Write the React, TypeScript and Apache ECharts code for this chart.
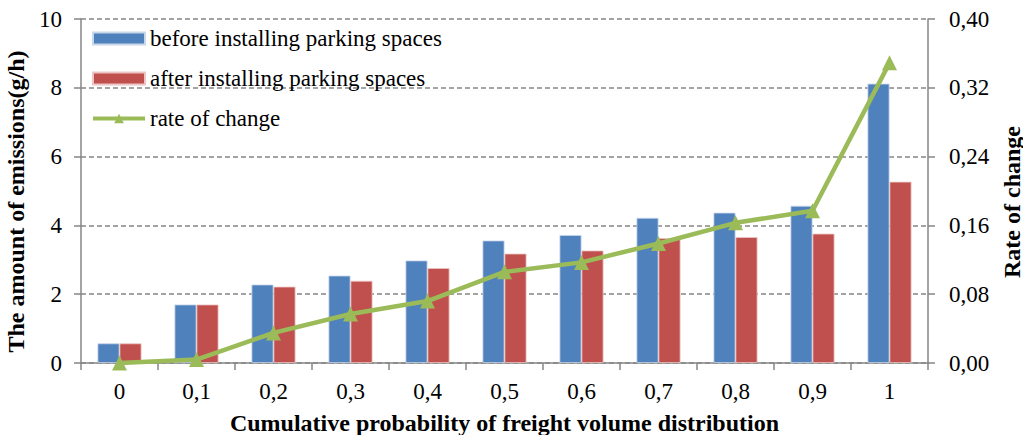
import React, { useEffect, useRef } from "react";
import * as echarts from "echarts";

const categories = ["0", "0,1", "0,2", "0,3", "0,4", "0,5", "0,6", "0,7", "0,8", "0,9", "1"];
const beforeValues = [0.57, 1.70, 2.28, 2.54, 2.98, 3.56, 3.72, 4.22, 4.37, 4.57, 8.12];
const afterValues = [0.57, 1.70, 2.22, 2.39, 2.76, 3.18, 3.27, 3.63, 3.66, 3.76, 5.27];
const rateValues = [0.0, 0.004, 0.035, 0.057, 0.072, 0.106, 0.117, 0.139, 0.163, 0.177, 0.349];

const FONT = "Liberation Serif";
const AXIS_GRAY = "#868686";
const W = 1023;
const H = 435;

export default function App() {
  const ref = useRef<HTMLDivElement>(null);

  useEffect(() => {
    if (!ref.current) return;
    document.body.style.margin = "0";
    const chart = echarts.init(ref.current, undefined, { renderer: "svg", width: W, height: H });
    chart.setOption({
      animation: false,
      backgroundColor: "#ffffff",
      textStyle: { fontFamily: FONT },
      grid: {
        left: 81,
        right: 95,
        top: 19,
        bottom: 72,
        containLabel: false,
        outerBoundsMode: "none",
      },
      legend: {
        orient: "vertical",
        left: 91,
        top: 27,
        padding: 0,
        itemWidth: 52,
        itemHeight: 12,
        itemGap: 17,
        textStyle: { fontFamily: FONT, fontSize: 23, color: "#000" },
        data: [
          { name: "before installing parking spaces", icon: "rect" },
          { name: "after installing parking spaces", icon: "rect" },
          { name: "rate of change", lineStyle: { width: 4 } },
        ],
      },
      xAxis: {
        type: "category",
        data: categories,
        name: "Cumulative probability of freight volume distribution",
        nameLocation: "middle",
        nameGap: 48,
        nameTextStyle: { fontFamily: FONT, fontSize: 24, fontWeight: "bold", color: "#000" },
        axisLine: { lineStyle: { color: AXIS_GRAY, width: 1.5 } },
        axisTick: { show: true, length: 7, lineStyle: { color: AXIS_GRAY, width: 1.5 } },
        axisLabel: { fontFamily: FONT, fontSize: 23, color: "#000", margin: 17 },
      },
      yAxis: [
        {
          type: "value",
          min: 0,
          max: 10,
          interval: 2,
          name: "The amount of emissions(g/h)",
          nameLocation: "middle",
          nameRotate: 90,
          nameGap: 48,
          nameTextStyle: {
            fontFamily: FONT,
            fontSize: 24,
            fontWeight: "bold",
            color: "#000",
            padding: [0, 21, 0, 0],
          },
          axisLine: { show: true, lineStyle: { color: AXIS_GRAY, width: 1.5 } },
          axisTick: { show: true, length: 7, lineStyle: { color: AXIS_GRAY, width: 1.5 } },
          axisLabel: { fontFamily: FONT, fontSize: 23, color: "#000", margin: 19 },
          splitLine: { show: true, lineStyle: { color: AXIS_GRAY, type: [5, 3], width: 1.5 } },
        },
        {
          type: "value",
          min: 0,
          max: 0.4,
          interval: 0.08,
          name: "Rate of change",
          nameLocation: "middle",
          nameRotate: 90,
          nameGap: 58,
          nameTextStyle: {
            fontFamily: FONT,
            fontSize: 24,
            fontWeight: "bold",
            color: "#000",
            padding: [0, 22, 0, 0],
          },
          axisLine: { show: true, lineStyle: { color: AXIS_GRAY, width: 1.5 } },
          axisTick: { show: true, length: 7, lineStyle: { color: AXIS_GRAY, width: 1.5 } },
          axisLabel: {
            fontFamily: FONT,
            fontSize: 23,
            color: "#000",
            margin: 21,
            formatter: (v: number) => v.toFixed(2).replace(".", ","),
          },
          splitLine: { show: false },
        },
      ],
      series: [
        {
          name: "before installing parking spaces",
          type: "bar",
          data: beforeValues,
          barWidth: 22,
          barGap: "0%",
          itemStyle: { color: "#4F81BD", borderColor: "#c9d7ea", borderWidth: 0.8 },
        },
        {
          name: "after installing parking spaces",
          type: "bar",
          data: afterValues,
          barWidth: 22,
          barGap: "0%",
          itemStyle: { color: "#C0504D", borderColor: "#ecc6c5", borderWidth: 0.8 },
        },
        {
          name: "rate of change",
          type: "line",
          yAxisIndex: 1,
          data: rateValues,
          symbol: "triangle",
          symbolSize: 15,
          lineStyle: { color: "#9BBB59", width: 4.5 },
          itemStyle: { color: "#9BBB59" },
          z: 5,
        },
      ],
    });
    return () => chart.dispose();
  }, []);

  return <div ref={ref} style={{ width: W, height: H, position: "fixed", left: 0, top: 0 }} />;
}
